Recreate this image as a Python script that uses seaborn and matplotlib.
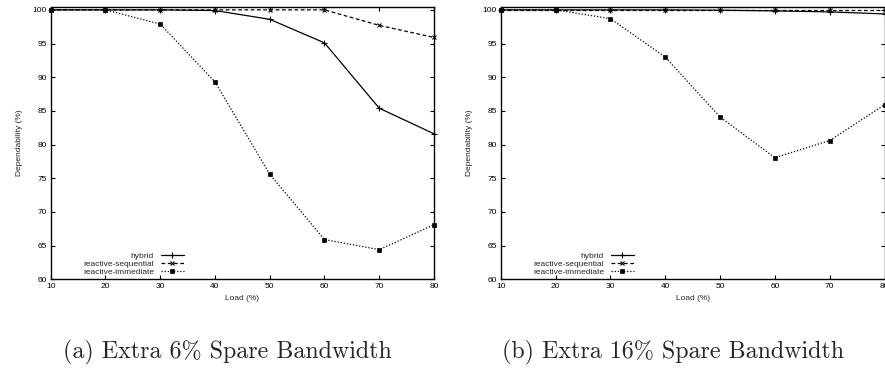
import matplotlib
matplotlib.use("Agg")
import matplotlib.pyplot as plt
import seaborn as sns
import pandas as pd

load = [10, 20, 30, 40, 50, 60, 70, 80]

# (a) Extra 6% spare bandwidth
a_hybrid = [100, 100, 100, 99.9, 98.6, 95.1, 85.4, 81.6]
a_sequential = [100, 100, 100, 100, 100, 100, 97.7, 95.9]
a_immediate = [100, 100, 97.9, 89.3, 75.6, 65.9, 64.4, 68.1]

# (b) Extra 16% spare bandwidth
b_hybrid = [100, 100, 100, 100, 99.95, 99.85, 99.7, 99.4]
b_sequential = [100, 100, 100, 100, 100, 100, 100, 100]
b_immediate = [100, 100, 98.7, 93.0, 84.1, 78.05, 80.6, 85.9]

series_names = ["hybrid", "reactive-sequential", "reactive-immediate"]
captions = ["(a) Extra 6% Spare Bandwidth", "(b) Extra 16% Spare Bandwidth"]
yticks = [60, 65, 70, 75, 80, 85, 90, 95, 100]

sns.set_style("ticks")
plt.rcParams["font.family"] = ["Liberation Sans", "DejaVu Sans"]

W, H = 885, 369
fig = plt.figure(figsize=(W / 100, H / 100), dpi=100)

styles = {
    "hybrid": dict(ls="-", marker="+", ms=4, mew=0.8),
    "reactive-sequential": dict(ls=(0, (3, 2)), marker="x", ms=3.5, mew=0.8),
    "reactive-immediate": dict(ls=(0, (1, 1.5)), marker="s", ms=2.5, mew=0.5),
}

panels = [
    ((50.7, 434.0), [a_hybrid, a_sequential, a_immediate], 227),
    ((500.7, 884.5), [b_hybrid, b_sequential, b_immediate], 673),
]

FS = 6.0
top_px, bot_px = 6.5, 279.3
for idx, ((x0, x1), vals, capx) in enumerate(panels):
    ax = fig.add_axes([x0 / W, 1 - bot_px / H, (x1 - x0) / W, (bot_px - top_px) / H])
    rows = []
    for name, v in zip(series_names, vals):
        for l, d in zip(load, v):
            rows.append({"Load": l, "Dependability": d, "series": name})
    df = pd.DataFrame(rows)
    for name in series_names:
        sub = df[df["series"] == name]
        st = styles[name]
        sns.lineplot(data=sub, x="Load", y="Dependability", ax=ax, color="black",
                     lw=0.9, linestyle=st["ls"], marker=st["marker"], markersize=st["ms"],
                     markeredgewidth=st["mew"], markeredgecolor="black", markerfacecolor="black",
                     label=name, clip_on=False, zorder=3)
    ax.set_xlim(10, 80)
    ax.set_ylim(60, 100.5)
    ax.set_xticks(load)
    ax.set_yticks(yticks)
    ax.tick_params(direction="in", length=3, width=0.8, labelsize=FS, pad=3,
                   top=True, right=True, colors="black")
    for sp in ax.spines.values():
        sp.set_linewidth(1.0)
        sp.set_color("black")
    ax.set_xlabel("Load (%)", fontsize=FS, labelpad=3)
    ax.set_ylabel("Dependability (%)", fontsize=FS, labelpad=7)
    axw = x1 - x0
    leg = ax.legend(loc="lower right", bbox_to_anchor=((184 - 50.7) / 383.3 * 383.3 / axw, 0.012),
                    frameon=False, markerfirst=False, fontsize=FS, handlelength=2.8,
                    handletextpad=0.8, labelspacing=0.05, borderaxespad=0.0, borderpad=0.0)
    for t in leg.get_texts():
        t.set_ha("right")
    leg._legend_box.align = "right"
    fig.text(capx / W, 1 - 352 / H, captions[idx],
             ha="center", va="center", fontsize=17.3, family="cmr10")

fig.savefig("out.png", dpi=100)
